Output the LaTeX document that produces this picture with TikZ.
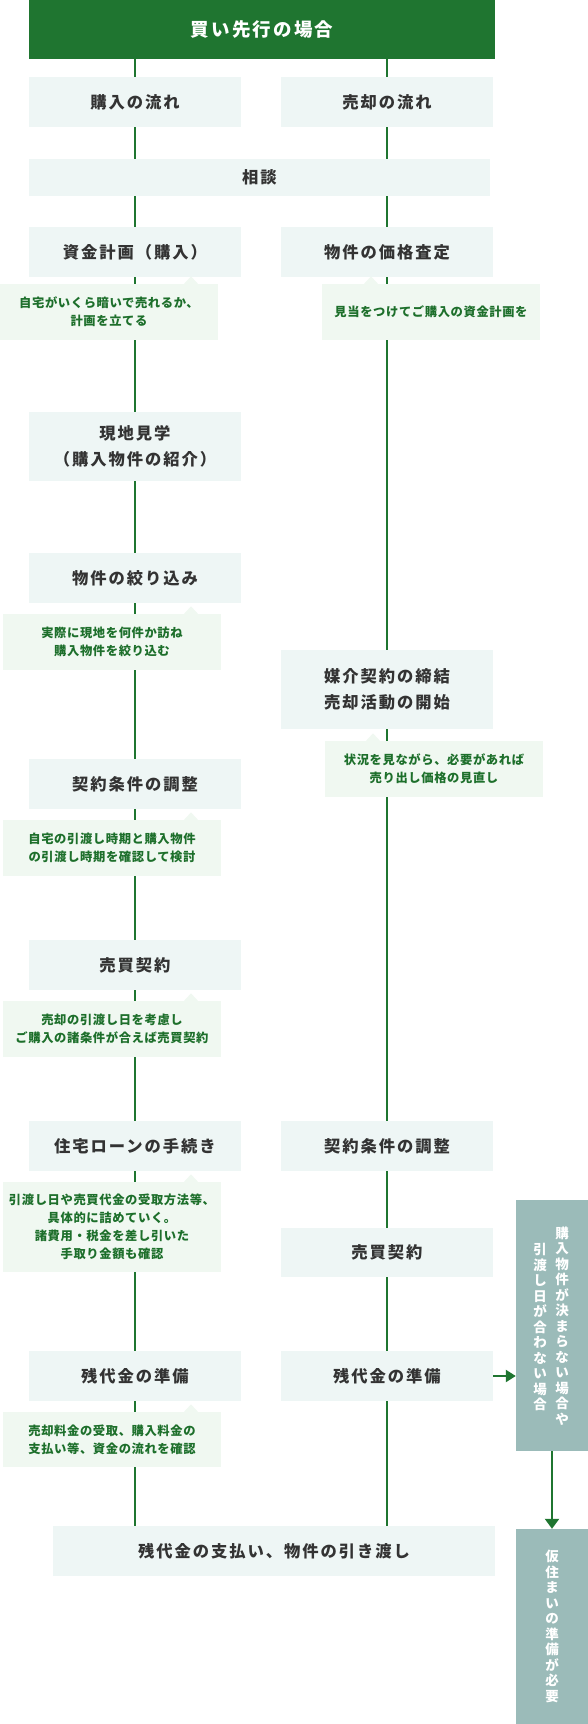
\documentclass[tikz,border=0pt]{standalone}
\usepackage{fontspec}
\setmainfont{Noto Sans CJK JP}
\newfontfamily\jpW{Noto Sans CJK JP}[LetterSpace=12]
\newfontfamily\jpN{Noto Sans CJK JP}[LetterSpace=5]
\newfontfamily\jpV{Noto Sans CJK JP}
\usetikzlibrary{arrows.meta}
\definecolor{hdrg}{HTML}{1F7530}
\definecolor{boxc}{HTML}{EEF6F5}
\definecolor{notec}{HTML}{F0F8F1}
\definecolor{greyc}{HTML}{9BBBB9}
\definecolor{txtc}{HTML}{333333}
\definecolor{ntxt}{HTML}{1D6F2B}
\pgfdeclarelayer{bg}
\pgfsetlayers{bg,main}
\tikzset{
  hdrbox/.style={fill=hdrg, text=white, inner sep=0pt, align=center,
    font=\jpW\bfseries\fontsize{18.5}{24}\selectfont},
  mbox/.style={fill=boxc, text=txtc, inner sep=0pt, align=center,
    minimum width=212pt, minimum height=50pt,
    font=\jpW\bfseries\fontsize{16.3}{25.5}\selectfont},
  note/.style={fill=notec, text=ntxt, inner sep=0pt, align=center,
    minimum width=218pt, minimum height=56pt,
    font=\jpN\bfseries\fontsize{12.3}{18}\selectfont},
  gbox/.style={fill=greyc, inner sep=0pt, minimum width=72pt},
  vt/.style={text=white, inner sep=0pt, align=center,
    font=\jpV\bfseries\fontsize{13.5}{15.5}\selectfont},
  ln/.style={draw=hdrg, line width=2.2pt},
}
\newcommand\ptr[2]{\fill[notec] (#1.north -| #2,0) ++(-7,0) -- ++(7,-7.5) -- ++(7,7.5) -- cycle;}
\begin{document}
\begin{tikzpicture}[x=1pt,y=-1pt]
\useasboundingbox (0,0) rectangle (588,1724);
% header
\node[hdrbox, minimum width=466pt, minimum height=59pt] (hdr) at (262,29.5) {買い先行の場合};
% row 1
\node[mbox] (b1) at (135,102) {購入の流れ};
\node[mbox] (s1) at (387,102) {売却の流れ};
\node[mbox, minimum width=461pt, minimum height=37pt] (sodan) at (259.5,177.5) {相談};
% row 2
\node[mbox] (b2) at (135,252) {資金計画（購入）};
\node[mbox] (s2) at (387,252) {物件の価格査定};
\node[note] (n1) at (109,312) {自宅がいくら暗いで売れるか、\\計画を立てる};
\ptr{n1}{191}
\node[note] (n2) at (431,312) {見当をつけてご購入の資金計画を};
\ptr{n2}{371}
% left steps
\node[mbox, minimum height=69pt] (b3) at (135,446.5) {現地見学\\（購入物件の紹介）};
\node[mbox] (b4) at (135,578) {物件の絞り込み};
\node[note] (n3) at (112,642) {実際に現地を何件か訪ね\\購入物件を絞り込む};
\ptr{n3}{191}
\node[mbox, minimum height=79pt] (s3) at (387,689.5) {媒介契約の締結\\売却活動の開始};
\node[note] (n4) at (434,769) {状況を見ながら、必要があれば\\売り出し価格の見直し};
\ptr{n4}{373}
\node[mbox] (b5) at (135,784) {契約条件の調整};
\node[note] (n5) at (112,848) {自宅の引渡し時期と購入物件\\の引渡し時期を確認して検討};
\ptr{n5}{191}
\node[mbox] (b6) at (135,965) {売買契約};
\node[note] (n6) at (112,1029) {売却の引渡し日を考慮し\\ご購入の諸条件が合えば売買契約};
\ptr{n6}{191}
\node[mbox] (b7) at (135,1146) {住宅ローンの手続き};
\node[mbox] (s4) at (387,1146) {契約条件の調整};
\node[note, minimum height=90pt] (n7) at (112,1227) {引渡し日や売買代金の受取方法等、\\具体的に詰めていく。\\諸費用・税金を差し引いた\\手取り金額も確認};
\ptr{n7}{191}
\node[mbox, minimum height=49pt] (s5) at (387,1252.5) {売買契約};
\node[mbox] (b8) at (135,1376) {残代金の準備};
\node[mbox] (s6) at (387,1376) {残代金の準備};
\node[note, minimum height=55pt] (n8) at (112,1439.5) {売却料金の受取、購入料金の\\支払い等、資金の流れを確認};
\ptr{n8}{191}
\node[mbox, minimum width=442pt] (fin) at (274,1551) {残代金の支払い、物件の引き渡し};
% grey side boxes
\node[gbox, minimum height=251pt] (g1) at (552,1325.5) {};
\node[vt] (v1) at (562,1326) {購\\入\\物\\件\\が\\決\\ま\\ら\\な\\い\\場\\合\\や};
\node[vt] (v2) at (540,1327) {引\\渡\\し\\日\\が\\合\\わ\\な\\い\\場\\合};
\node[gbox, minimum height=195pt] (g2) at (552,1626.5) {};
\node[vt] (v3) at (552,1626.5) {仮\\住\\ま\\い\\の\\準\\備\\が\\必\\要};
% connectors
\begin{pgfonlayer}{bg}
\draw[ln] (hdr.south -| b1.south) -- (fin.north -| b1.south);
\draw[ln] (hdr.south -| s1.south) -- (fin.north -| s1.south);
\end{pgfonlayer}
\draw[ln, -{Triangle[length=10pt,width=12pt]}] (s6.east) -- (s6.east -| g1.west);
\draw[ln, -{Triangle[length=10pt,width=14pt]}] (g1.south) -- (g2.north);
\end{tikzpicture}
\end{document}
